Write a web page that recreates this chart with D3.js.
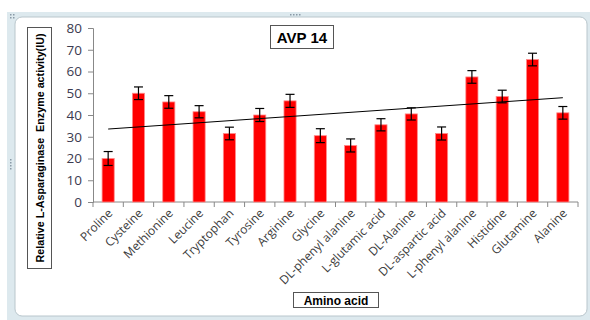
<!DOCTYPE html>
<html>
<head>
<meta charset="utf-8">
<script src="https://cdn.jsdelivr.net/npm/d3@7"></script>
<style>
  body { margin: 0; background: #fff; }
  svg { display: block; font-family: "Open Sans", "Noto Sans", sans-serif; }
</style>
</head>
<body>
<script>
// amino acids on the x axis
var categories = ["Proline", "Cysteine", "Methionine", "Leucine", "Tryptophan", "Tyrosine",
    "Arginine", "Glycine", "DL-phenyl alanine", "L-glutamic acid", "DL-Alanine",
    "DL-aspartic acid", "L-phenyl alanine", "Histidine", "Glutamine", "Alanine"];
// enzyme activity (IU)
var activity = [20, 50, 46, 41.5, 31.5, 40, 46.5, 30.5, 26, 35.5, 40.5, 31.5, 57.5, 48.5, 65.5, 41];
// error (+/-)
var errors = [3.2, 2.9, 2.9, 2.8, 2.9, 3, 3, 3.2, 3, 2.8, 2.8, 3, 2.9, 2.9, 2.9, 2.9];
var yTicks = [0, 10, 20, 30, 40, 50, 60, 70, 80];

var W = 590, H = 320;
var margin = {top: 28, right: 12, bottom: 118, left: 93};
var width = 578 - margin.left, height = 202 - margin.top;

var svg = d3.select("body").append("svg")
    .attr("width", W)
    .attr("height", H);

// frame around the embedded chart
svg.append("rect")
    .attr("x", 7).attr("y", 12).attr("width", 590).attr("height", 310)
    .attr("fill", "#dde9ee");
svg.append("rect")
    .attr("x", 15).attr("y", 17).attr("width", 572).attr("height", 299)
    .attr("rx", 7)
    .attr("fill", "#fff").attr("stroke", "#b9c6cc");
// little drag handles (dots)
var dots = [[290, 14], [293, 14], [296, 14], [299, 14],
            [10, 159], [10, 162], [10, 165], [10, 168],
            [10, 14], [13, 14], [10, 17], [13, 17]];
svg.selectAll(".dot").data(dots).enter().append("rect")
    .attr("x", function(d) { return d[0]; }).attr("y", function(d) { return d[1]; })
    .attr("width", 1.5).attr("height", 1.5).attr("fill", "#8a9aa6");

var g = svg.append("g")
    .attr("transform", "translate(" + margin.left + "," + margin.top + ")");

var x = d3.scaleBand().domain(categories).range([0, width])
    .paddingInner(0.6).paddingOuter(0.3);
var y = d3.scaleLinear().domain([0, 80]).range([height, 0]);

// y axis
var yAxis = g.append("g")
    .call(d3.axisLeft(y).tickValues(yTicks).tickSize(5).tickPadding(6));
yAxis.select(".domain").attr("stroke", "#888");
yAxis.selectAll(".tick line").attr("stroke", "#888");
yAxis.selectAll(".tick text")
    .style("font-size", "13.5px").style("fill", "#3b3b4f")
    .style("font-family", "'Open Sans', sans-serif");

// x axis (ticks between categories)
var xAxisG = g.append("g").attr("transform", "translate(0," + height + ")");
xAxisG.append("line").attr("x1", 0).attr("x2", width).attr("stroke", "#888");
var edges = d3.range(categories.length + 1).map(function(i) { return i * width / categories.length; });
xAxisG.selectAll(".xt").data(edges).enter().append("line")
    .attr("x1", function(d) { return d; }).attr("x2", function(d) { return d; })
    .attr("y1", 0).attr("y2", 5).attr("stroke", "#888");

xAxisG.selectAll(".xl").data(categories).enter().append("text")
    .attr("transform", function(d) {
        return "translate(" + (x(d) + x.bandwidth() / 2 + 5) + ",12) rotate(-45)";
    })
    .attr("text-anchor", "end")
    .style("font-size", "12px").style("fill", "#3b3b3b")
    .text(function(d) { return d; });

// bars
g.selectAll(".bar").data(categories).enter().append("rect")
    .attr("x", function(d) { return x(d); })
    .attr("y", function(d, i) { return y(activity[i]); })
    .attr("width", x.bandwidth())
    .attr("height", function(d, i) { return height - y(activity[i]); })
    .attr("fill", "#ff0000")
    .attr("stroke", "#ff8a8a").attr("stroke-width", 0.8);

// error bars
var eb = g.selectAll(".err").data(categories).enter().append("g");
eb.append("line")
    .attr("x1", function(d) { return x(d) + x.bandwidth() / 2; })
    .attr("x2", function(d) { return x(d) + x.bandwidth() / 2; })
    .attr("y1", function(d, i) { return y(activity[i] + errors[i]); })
    .attr("y2", function(d, i) { return y(activity[i] - errors[i]); })
    .attr("stroke", "#000").attr("stroke-width", 1.2);
[1, -1].forEach(function(s) {
    eb.append("line")
        .attr("x1", function(d) { return x(d) + x.bandwidth() / 2 - 4.5; })
        .attr("x2", function(d) { return x(d) + x.bandwidth() / 2 + 4.5; })
        .attr("y1", function(d, i) { return y(activity[i] + s * errors[i]); })
        .attr("y2", function(d, i) { return y(activity[i] + s * errors[i]); })
        .attr("stroke", "#000").attr("stroke-width", 1.2);
});

// linear trendline (least squares over category index)
var n = activity.length;
var mx = d3.mean(d3.range(n)), my = d3.mean(activity);
var sxy = d3.sum(activity, function(v, i) { return (i - mx) * (v - my); });
var sxx = d3.sum(d3.range(n), function(i) { return (i - mx) * (i - mx); });
var slope = sxy / sxx, icpt = my - slope * mx;
g.append("line")
    .attr("x1", x(categories[0]) + x.bandwidth() / 2)
    .attr("x2", x(categories[n - 1]) + x.bandwidth() / 2)
    .attr("y1", y(icpt))
    .attr("y2", y(icpt + slope * (n - 1)))
    .attr("stroke", "#000").attr("stroke-width", 1);

// title box
svg.append("rect").attr("x", 270.5).attr("y", 25.5).attr("width", 63).attr("height", 23)
    .attr("fill", "#fff").attr("stroke", "#555");
svg.append("text").attr("x", 302).attr("y", 43).attr("text-anchor", "middle")
    .style("font-size", "15px").style("font-weight", "bold")
    .style("font-family", "'Liberation Sans', Arial, sans-serif")
    .text("AVP 14");

// y axis title box
svg.append("rect").attr("x", 27.5).attr("y", 27.5).attr("width", 24).attr("height", 241)
    .attr("fill", "#fff").attr("stroke", "#555");
svg.append("text")
    .attr("transform", "translate(44,148) rotate(-90)")
    .attr("text-anchor", "middle")
    .attr("textLength", 229).attr("lengthAdjust", "spacingAndGlyphs")
    .style("font-size", "11.5px").style("font-weight", "bold")
    .style("font-family", "'Liberation Sans', Arial, sans-serif")
    .style("white-space", "pre")
    .text("Relative L-Asparaginase  Enzyme activity(IU)");

// x axis title box
svg.append("rect").attr("x", 293.5).attr("y", 292.5).attr("width", 85).attr("height", 15)
    .attr("fill", "#fff").attr("stroke", "#555");
svg.append("text").attr("x", 336).attr("y", 304.5).attr("text-anchor", "middle")
    .style("font-size", "12px").style("font-weight", "bold")
    .style("font-family", "'Liberation Sans', Arial, sans-serif")
    .text("Amino acid");
</script>
</body>
</html>
